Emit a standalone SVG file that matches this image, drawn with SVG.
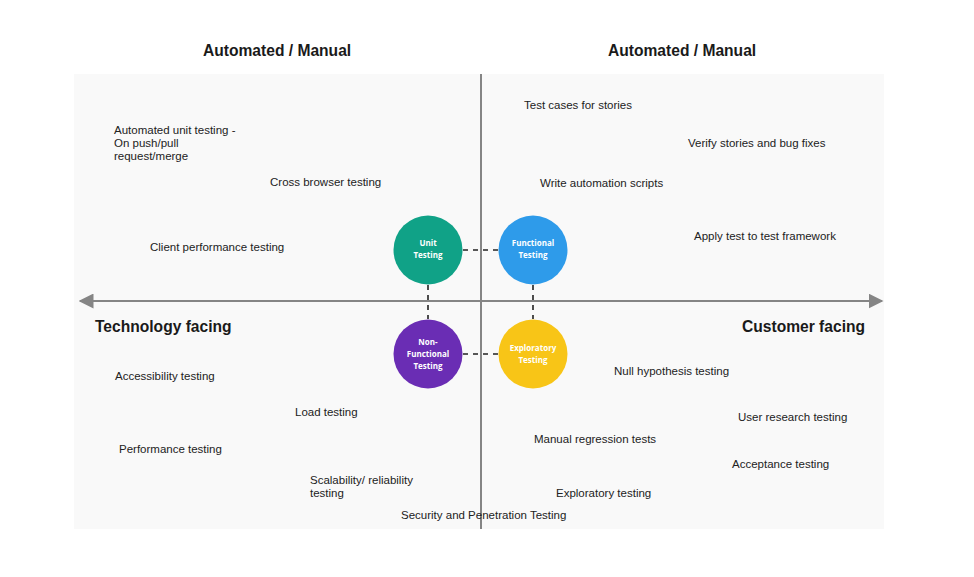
<svg xmlns="http://www.w3.org/2000/svg" width="974" height="577" viewBox="0 0 974 577">
  <style>
    .item { font-family: "Liberation Sans", Arial, sans-serif; font-size: 11.5px; fill: #222222; }
    .head { font-family: "Liberation Sans", Arial, sans-serif; font-size: 15.6px; font-weight: bold; fill: #1a1a1a; }
    .node-label { font-family: "Open Sans", "Noto Sans", sans-serif; font-size: 8px; font-weight: bold; fill: #ffffff; text-anchor: middle; }
    .axis { stroke: #858585; stroke-width: 2; fill: none; }
    .link { stroke: #222222; stroke-width: 1.6; stroke-dasharray: 5 5; fill: none; }
  </style>
  <defs>
    <marker id="arrowhead" viewBox="0 0 10 10" refX="9" refY="5" markerWidth="7.5" markerHeight="7.5" markerUnits="strokeWidth" orient="auto-start-reverse">
      <path d="M0,0 L10,5 L0,10 z" fill="#858585"/>
    </marker>
  </defs>

  <rect x="0" y="0" width="974" height="577" fill="#ffffff"/>
  <!-- quadrant panel -->
  <rect x="74" y="74" width="810" height="455" fill="#f9f9f9"/>

  <!-- axes -->
  <line class="axis" x1="481" y1="74" x2="481" y2="529" stroke-width="1.6"/>
  <line class="axis" x1="80" y1="301" x2="882" y2="301" marker-start="url(#arrowhead)" marker-end="url(#arrowhead)"/>

  <!-- headings -->
  <text class="head" x="203" y="56">Automated / Manual</text>
  <text class="head" x="608" y="56">Automated / Manual</text>
  <text class="head" x="95" y="332">Technology facing</text>
  <text class="head" x="742" y="332">Customer facing</text>

  <!-- connectors -->
  <g id="connectors">
    <line class="link" x1="463" y1="250" x2="498" y2="250"/>
    <line class="link" x1="463" y1="354" x2="498" y2="354"/>
    <line class="link" x1="428" y1="285" x2="428" y2="319"/>
    <line class="link" x1="533" y1="285" x2="533" y2="319"/>
  </g>

  <!-- nodes -->
  <g id="unit-testing">
    <circle cx="428" cy="250" r="34.5" fill="#10a287"/>
    <text class="node-label" x="428" y="246">Unit</text>
    <text class="node-label" x="428" y="258">Testing</text>
  </g>
  <g id="functional-testing">
    <circle cx="533" cy="250" r="34.5" fill="#2e9bea"/>
    <text class="node-label" x="533" y="246">Functional</text>
    <text class="node-label" x="533" y="258">Testing</text>
  </g>
  <g id="non-functional-testing">
    <circle cx="428" cy="354" r="34.5" fill="#6a2db4"/>
    <text class="node-label" x="428" y="345">Non-</text>
    <text class="node-label" x="428" y="357">Functional</text>
    <text class="node-label" x="428" y="369">Testing</text>
  </g>
  <g id="exploratory-testing">
    <circle cx="533" cy="354" r="34.5" fill="#f8c517"/>
    <text class="node-label" x="533" y="351">Exploratory</text>
    <text class="node-label" x="533" y="363">Testing</text>
  </g>

  <!-- top-left quadrant -->
  <text class="item" x="114" y="134">Automated unit testing -</text>
  <text class="item" x="114" y="147">On push/pull</text>
  <text class="item" x="114" y="160">request/merge</text>
  <text class="item" x="270" y="186">Cross browser testing</text>
  <text class="item" x="150" y="251">Client performance testing</text>

  <!-- top-right quadrant -->
  <text class="item" x="524" y="109">Test cases for stories</text>
  <text class="item" x="688" y="147">Verify stories and bug fixes</text>
  <text class="item" x="540" y="187">Write automation scripts</text>
  <text class="item" x="694" y="240">Apply test to test framework</text>

  <!-- bottom-left quadrant -->
  <text class="item" x="115" y="380">Accessibility testing</text>
  <text class="item" x="295" y="416">Load testing</text>
  <text class="item" x="119" y="453">Performance testing</text>
  <text class="item" x="310" y="484">Scalability/ reliability</text>
  <text class="item" x="310" y="497">testing</text>
  <text class="item" x="401" y="519">Security and Penetration Testing</text>

  <!-- bottom-right quadrant -->
  <text class="item" x="614" y="375">Null hypothesis testing</text>
  <text class="item" x="738" y="421">User research testing</text>
  <text class="item" x="534" y="443">Manual regression tests</text>
  <text class="item" x="732" y="468">Acceptance testing</text>
  <text class="item" x="556" y="497">Exploratory testing</text>
</svg>
